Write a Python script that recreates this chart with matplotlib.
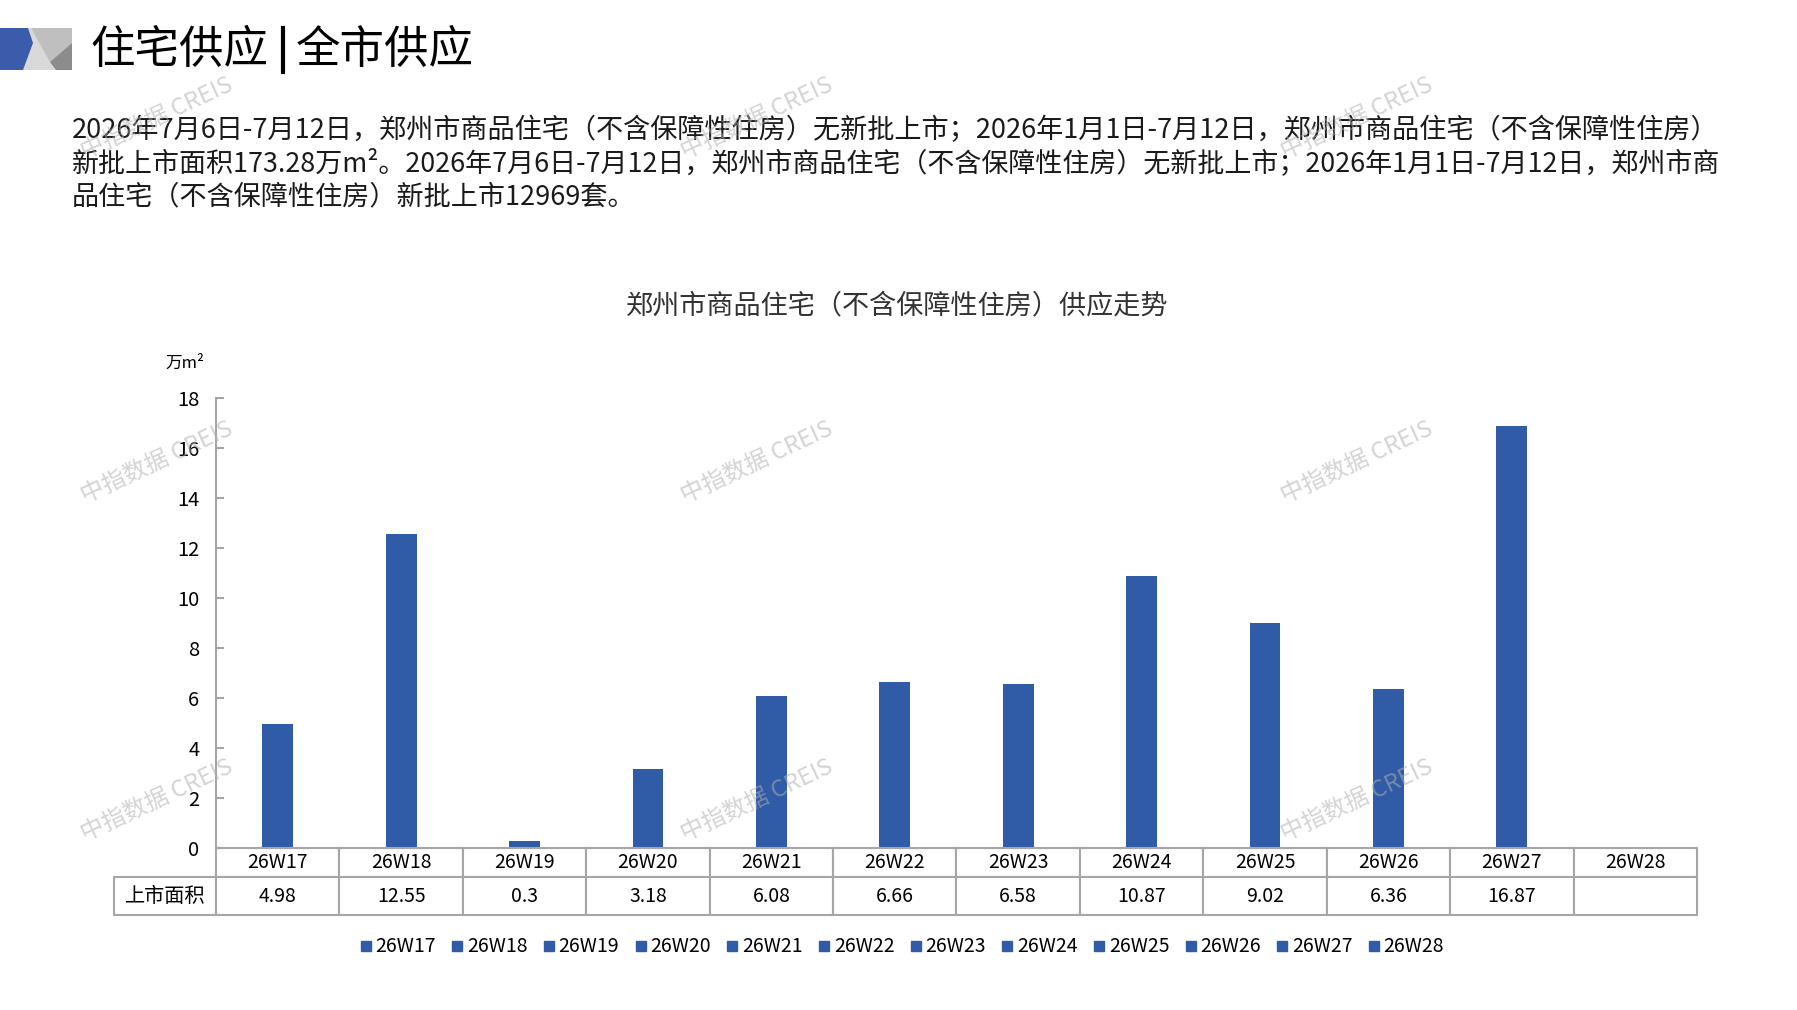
import numpy as np
import matplotlib.pyplot as plt
from matplotlib.lines import Line2D
from matplotlib.patches import Polygon
from matplotlib.table import Table

plt.rcParams['font.family'] = ['Noto Sans CJK SC', 'DejaVu Sans']

# data
weeks = ['26W17', '26W18', '26W19', '26W20', '26W21', '26W22',
         '26W23', '26W24', '26W25', '26W26', '26W27', '26W28']
area = [4.98, 12.55, 0.3, 3.18, 6.08, 6.66, 6.58, 10.87, 9.02, 6.36, 16.87, np.nan]
area_labels = ['4.98', '12.55', '0.3', '3.18', '6.08', '6.66',
               '6.58', '10.87', '9.02', '6.36', '16.87', '']
row_label = '上市面积'
yticks = list(range(0, 19, 2))

header_left = '住宅供应'
header_right = '全市供应'
chart_title = '郑州市商品住宅（不含保障性住房）供应走势'
unit_label = '万m²'
summary_lines = [
    '2026年7月6日-7月12日，郑州市商品住宅（不含保障性住房）无新批上市；2026年1月1日-7月12日，郑州市商品住宅（不含保障性住房）',
    '新批上市面积173.28万m²。2026年7月6日-7月12日，郑州市商品住宅（不含保障性住房）无新批上市；2026年1月1日-7月12日，郑州市商',
    '品住宅（不含保障性住房）新批上市12969套。',
]
watermark = '中指数据 CREIS'

BLUE = '#2f5ba7'
GRID = '#a6a6a6'
W, H = 1797, 1010


def fx(x):
    return x / W


def fy(y):
    return 1 - y / H


fig = plt.figure(figsize=(W / 100, H / 100), dpi=100)
fig.patch.set_facecolor('white')

# header logo
logo = [
    ('#d9d9d9', [(22, 28), (72, 28), (72, 70), (22, 70)]),
    ('#bfbfbf', [(31, 28), (72, 28), (72, 43), (50, 62)]),
    ('#8c8c8c', [(50, 62), (72, 43), (72, 70), (56, 70)]),
    ('#3b5bab', [(0, 28), (28, 28), (33, 43), (23, 70), (0, 70)]),
]
for col, pts in logo:
    fig.patches.append(Polygon([(fx(a), fy(b)) for a, b in pts], closed=True,
                               transform=fig.transFigure, facecolor=col,
                               edgecolor='none'))

fig.text(fx(90), fy(50), header_left, fontsize=32, va='center', ha='left')
fig.add_artist(Line2D([fx(283), fx(283)], [fy(28), fy(72)], color='black',
                      lw=3, transform=fig.transFigure))
fig.text(fx(296), fy(50), header_right, fontsize=32, va='center', ha='left')

# summary paragraph, lines 1-2 justified to the text block width
renderer = fig.canvas.get_renderer()
left_px, right_px = 72, 1720
sizes = []
for i, line in enumerate(summary_lines):
    t = fig.text(fx(left_px), fy(130 + 33.5 * i), line, fontsize=18,
                 va='center', ha='left', color='#1a1a1a')
    if i < 2:
        w = t.get_window_extent(renderer).width
        t.set_fontsize(18 * (right_px - left_px) / w)
        sizes.append(18 * (right_px - left_px) / w)
    else:
        t.set_fontsize(np.mean(sizes))

# chart title and unit
fig.text(fx(897), fy(306), chart_title, fontsize=19.5, ha='center',
         va='center', color='#333333')
fig.text(fx(185), fy(363), unit_label, fontsize=12, ha='center', va='center')

# bars
ax = fig.add_axes([fx(216), fy(848), (1697 - 216) / W, (848 - 398) / H])
x = np.arange(len(weeks))
ax.bar(x, area, width=0.25, color=BLUE, zorder=2)
ax.set_xlim(-0.5, len(weeks) - 0.5)
ax.set_ylim(0, 18)
ax.set_yticks(yticks)
ax.set_xticks([])
ax.tick_params(axis='y', direction='in', length=6, width=1.5, color=GRID,
               labelsize=14.5, pad=12)
for s in ['top', 'right']:
    ax.spines[s].set_visible(False)
for s in ['left', 'bottom']:
    ax.spines[s].set_color(GRID)
    ax.spines[s].set_linewidth(1.5)

# data table under the axis
ax_h = 848 - 398
h0, h1 = 29 / ax_h, 38 / ax_h
tbl = Table(ax, bbox=[0, -(h0 + h1), 1, h0 + h1])
cw = 1 / len(weeks)
for j, wk in enumerate(weeks):
    tbl.add_cell(0, j, width=cw, height=h0, text=wk, loc='center')
    tbl.add_cell(1, j, width=cw, height=h1, text=area_labels[j], loc='center')
tbl.add_cell(1, -1, width=102 / (1697 - 216), height=h1, text=row_label,
             loc='center')
tbl.auto_set_font_size(False)
for (r, c), cell in tbl.get_celld().items():
    cell.set_edgecolor(GRID)
    cell.set_linewidth(1.5)
    cell.get_text().set_fontsize(14.5 if c == -1 else 14)
ax.add_table(tbl)

# legend
handles = [Line2D([], [], marker='s', linestyle='', color=BLUE, markersize=7)
           for _ in weeks]
fig.legend(handles, weeks, loc='center', bbox_to_anchor=(fx(902), fy(947)),
           ncol=len(weeks), frameon=False, fontsize=14, handlelength=0.6,
           handletextpad=0.2, columnspacing=0.8)

# watermarks
for wy in (118, 462, 800):
    for wx in (157, 757, 1357):
        fig.text(fx(wx), fy(wy), watermark, fontsize=17, rotation=25,
                 ha='center', va='center', color='#b0b0b0', alpha=0.55,
                 zorder=10)

fig.savefig('out.png', dpi=100)
